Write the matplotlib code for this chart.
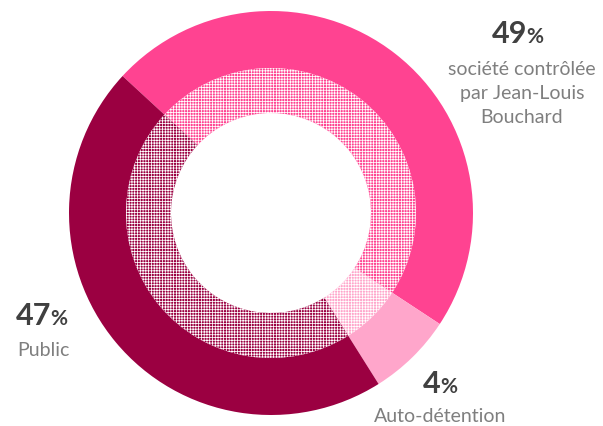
import matplotlib
matplotlib.use("Agg")
import matplotlib.pyplot as plt

# Data (shares as drawn in the picture; labels as printed)
categories = ["société contrôlée\npar Jean-Louis\nBouchard", "Auto-détention", "Public"]
shares = [47.4, 6.8, 45.8]
pct_labels = ["49", "4", "47"]
colors = ["#FF4391", "#FFA6CB", "#9B0041"]

plt.rcParams["font.family"] = ["Lato", "DejaVu Sans"]
plt.rcParams["hatch.color"] = "white"
plt.rcParams["hatch.linewidth"] = 0.55

W, H = 603, 427
fig = plt.figure(figsize=(W / 100, H / 100), dpi=100)
ax = fig.add_axes([0, 0, 1, 1])
ax.set_xlim(0, W)
ax.set_ylim(0, H)
ax.axis("off")

cx, cy = 271, H - 214
R = 202
# outer solid ring
ax.pie(shares, radius=R, center=(cx, cy), colors=colors, startangle=137.3,
       counterclock=False, wedgeprops=dict(width=R - 145, linewidth=0))
# inner patterned ring
wedges, _ = ax.pie(shares, radius=145, center=(cx, cy), colors=colors, startangle=137.3,
                   counterclock=False,
                   wedgeprops=dict(width=145 - 100, linewidth=0, edgecolor="white"))
for w in wedges:
    w.set_hatch("++++++")
    w.set_edgecolor("white")
    w.set_linewidth(0)
ax.set_xlim(0, W)
ax.set_ylim(0, H)
ax.set_aspect("equal")

dark = "#404040"
grey = "#7F7F7F"

def label(xr, base_y, pct, sub_lines, sub_x, sub_base):
    ax.text(xr, H - base_y, pct, ha="right", va="baseline", fontsize=22,
            fontweight="bold", color=dark)
    ax.text(xr - 1, H - base_y, "%", ha="left", va="baseline", fontsize=15,
            fontweight="bold", color=dark)
    for i, line in enumerate(sub_lines):
        ax.text(sub_x, H - (sub_base + 24 * i), line, ha="center", va="baseline",
                fontsize=14, color=grey)

label(527, 43, pct_labels[0], categories[0].split("\n"), 522, 75)
label(441, 393, pct_labels[1], categories[1].split("\n"), 440, 422)
label(51, 325, pct_labels[2], categories[2].split("\n"), 43, 356)

fig.savefig("out.png", dpi=100)
